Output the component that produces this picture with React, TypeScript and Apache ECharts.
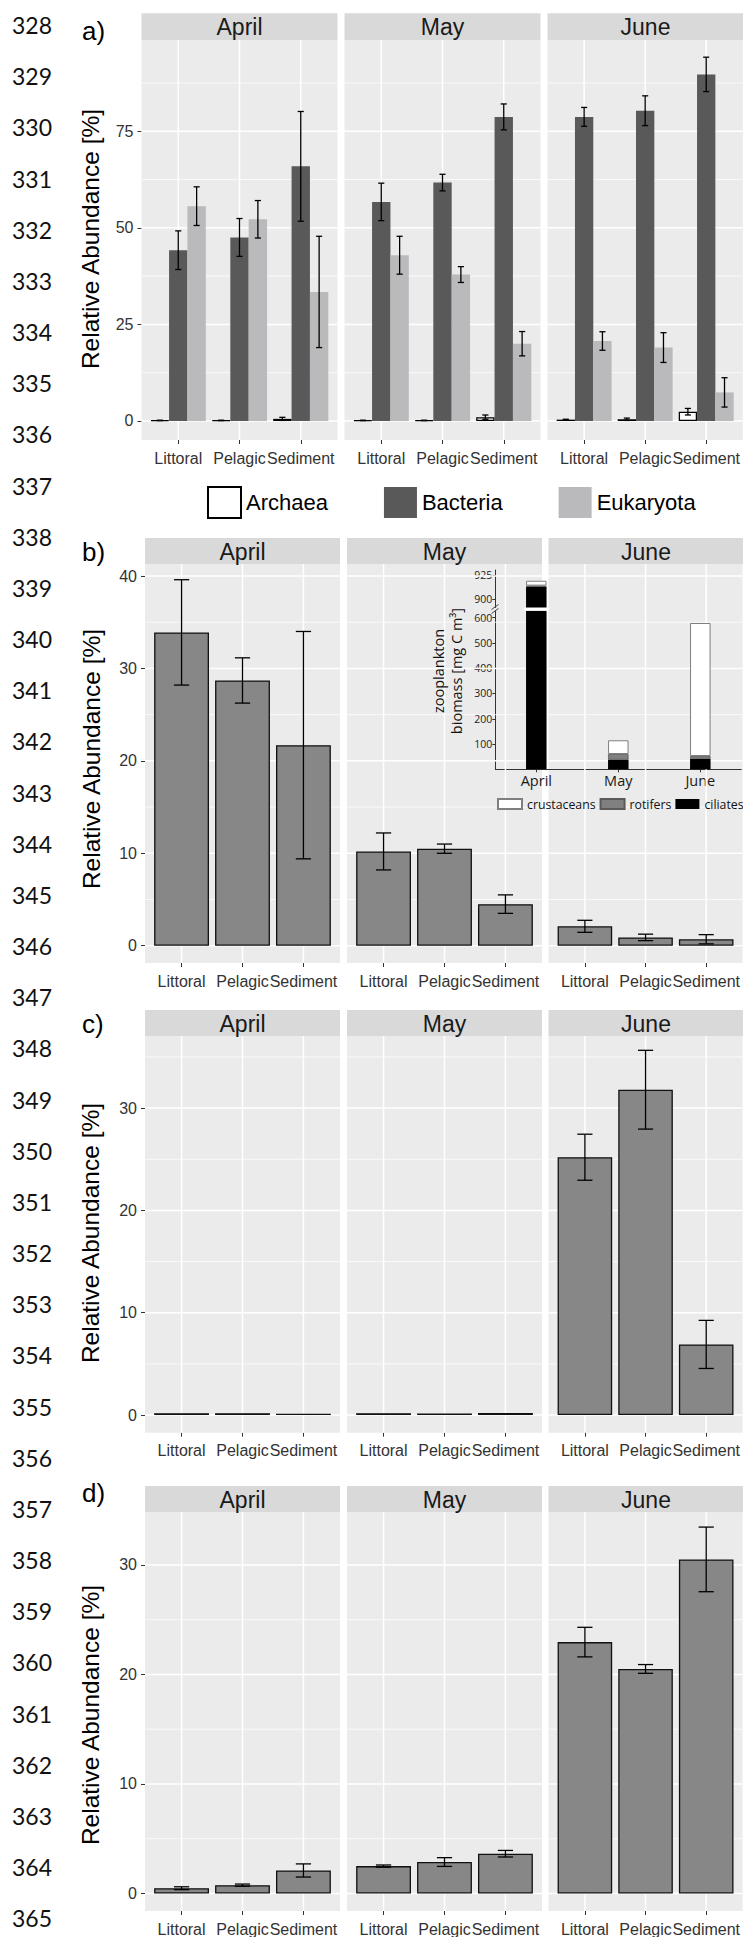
import React, { useEffect, useRef } from "react";
import * as echarts from "echarts";

const months = ["April", "May", "June"];
const sites = ["Littoral", "Pelagic", "Sediment"];
const lineNumbers = [
  328, 329, 330, 331, 332, 333, 334, 335, 336, 337, 338, 339, 340, 341, 342, 343, 344, 345, 346,
  347, 348, 349, 350, 351, 352, 353, 354, 355, 356, 357, 358, 359, 360, 361, 362, 363, 364, 365,
];
const yTitle = "Relative Abundance [%]";

// a) domains: mean and sd per month, order [Littoral, Pelagic, Sediment]
const archaeaMean = [[0.15, 0.15, 0.55], [0.15, 0.15, 1.0], [0.35, 0.45, 2.4]];
const archaeaSd = [[0.05, 0.05, 0.4], [0.05, 0.05, 0.55], [0.1, 0.3, 0.85]];
const bacteriaMean = [[44.2, 47.5, 65.9], [56.7, 61.7, 78.7], [78.7, 80.3, 89.7]];
const bacteriaSd = [[5.0, 4.9, 14.2], [4.85, 2.15, 3.35], [2.45, 3.85, 4.45]];
const eukaryotaMean = [[55.6, 52.2, 33.4], [42.9, 37.9, 20.0], [20.7, 19.0, 7.4]];
const eukaryotaSd = [[5.0, 4.85, 14.4], [4.9, 2.05, 3.15], [2.4, 3.85, 3.8]];

// b), c), d)
const bMean = [[33.9, 28.7, 21.7], [10.2, 10.5, 4.5], [2.1, 0.9, 0.7]];
const bSd = [[5.7, 2.45, 12.3], [2.0, 0.5, 1.0], [0.65, 0.35, 0.5]];
const cMean = [[0.18, 0.18, 0.13], [0.18, 0.15, 0.2], [25.2, 31.8, 6.9]];
const cSd = [[0, 0, 0], [0, 0, 0], [2.25, 3.85, 2.35]];
const dMean = [[0.48, 0.76, 2.1], [2.5, 2.87, 3.63], [22.95, 20.5, 30.5]];
const dSd = [[0.13, 0.1, 0.6], [0.1, 0.4, 0.3], [1.35, 0.4, 2.95]];

// inset: zooplankton biomass [mg C m-3]
const ciliates = [913, 38, 42];
const rotifers = [1, 22.5, 10.5];
const crustaceans = [5, 54.3, 526.4];

// tick labels
const ticksA = [0, 25, 50, 75];
const minorA = [12.5, 37.5, 62.5, 87.5];
const ticksB = [0, 10, 20, 30, 40];
const minorB = [5, 15, 25, 35];
const ticksC = [0, 10, 20, 30];
const minorC = [5, 15, 25, 35];
const ticksD = [0, 10, 20, 30];
const minorD = [5, 15, 25];
const insetLowTicks = [100, 200, 300, 400, 500, 600];
const insetHighTicks = [900, 925];

const FONT = "'Liberation Sans', Arial, Helvetica, sans-serif";
const IFONT = "'Open Sans', 'Noto Sans', sans-serif";

const panels = [
  { label: "a)", labelY: 31, stripTop: 13.3, top: 40, bottom: 440, ymin: -4.92, ymax: 98.6, lefts: [141.5, 344.5, 547.5], width: 196, major: ticksA, minor: minorA, titleX: 90, titleY: 239 },
  { label: "b)", labelY: 552, stripTop: 538, top: 564, bottom: 963, ymin: -1.87, ymax: 41.3, lefts: [145, 347, 548.5], width: 195, major: ticksB, minor: minorB, titleX: 91, titleY: 759 },
  { label: "c)", labelY: 1024, stripTop: 1010, top: 1036, bottom: 1432.7, ymin: -1.73, ymax: 37.05, lefts: [145, 347, 548.5], width: 195, major: ticksC, minor: minorC, titleX: 90.5, titleY: 1233 },
  { label: "d)", labelY: 1493, stripTop: 1486, top: 1512.3, bottom: 1913.3, ymin: -1.6, ymax: 34.8, lefts: [145, 347, 548.5], width: 195, major: ticksD, minor: minorD, titleX: 90.8, titleY: 1715 },
];

function gridSeries(g: number, major: number[], minor: number[]) {
  const data: number[][] = [];
  major.forEach((v) => data.push([0, v, 0]));
  minor.forEach((v) => data.push([0, v, 1]));
  [0, 1, 2].forEach((v) => data.push([v, 0, 2]));
  return {
    type: "custom",
    xAxisIndex: g,
    yAxisIndex: g,
    z: 1,
    silent: true,
    data,
    encode: { x: 0, y: 1 },
    renderItem: (params: any, api: any) => {
      const cs = params.coordSys;
      const kind = api.value(2);
      if (kind === 2) {
        const x = api.coord([api.value(0), 0])[0];
        return { type: "line", shape: { x1: x, y1: cs.y, x2: x, y2: cs.y + cs.height }, style: { stroke: "#FFFFFF", lineWidth: 1.5 } };
      }
      const y = api.coord([0, api.value(1)])[1];
      return { type: "line", shape: { x1: cs.x, y1: y, x2: cs.x + cs.width, y2: y }, style: { stroke: "#FFFFFF", lineWidth: kind === 0 ? 1.5 : 0.75 } };
    },
  };
}

function errorSeries(g: number, mean: number[], sd: number[], offset: number, cap: number) {
  const data: number[][] = [];
  mean.forEach((v, i) => {
    if (sd[i] > 0) data.push([i, v - sd[i], v + sd[i]]);
  });
  return {
    type: "custom",
    xAxisIndex: g,
    yAxisIndex: g,
    z: 4,
    silent: true,
    data,
    encode: { x: 0, y: [1, 2] },
    renderItem: (params: any, api: any) => {
      const x = api.value(0) + offset;
      const top = api.coord([x, api.value(2)]);
      const bot = api.coord([x, api.value(1)]);
      const half = api.size([cap, 0])[0] / 2;
      const st = { stroke: "#000000", lineWidth: 1.3 };
      return {
        type: "group",
        children: [
          { type: "line", shape: { x1: top[0], y1: top[1], x2: bot[0], y2: bot[1] }, style: st },
          { type: "line", shape: { x1: top[0] - half, y1: top[1], x2: top[0] + half, y2: top[1] }, style: st },
          { type: "line", shape: { x1: bot[0] - half, y1: bot[1], x2: bot[0] + half, y2: bot[1] }, style: st },
        ],
      };
    },
  };
}

function buildOption() {
  const grid: any[] = [];
  const xAxis: any[] = [];
  const yAxis: any[] = [];
  const series: any[] = [];
  const graphic: any[] = [];

  lineNumbers.forEach((n, i) => {
    graphic.push({
      type: "text",
      x: 12,
      y: 25 + i * 51.17,
      style: { text: String(n), fontSize: 23, fontFamily: "Lato, 'Open Sans', sans-serif", fill: "#111111", align: "left", verticalAlign: "middle" },
    });
  });

  panels.forEach((p, pi) => {
    graphic.push({
      type: "text",
      x: 82,
      y: p.labelY,
      style: { text: p.label, fontSize: 26, fontFamily: FONT, fill: "#000000", align: "left", verticalAlign: "middle" },
    });
    graphic.push({
      type: "text",
      x: p.titleX,
      y: p.titleY,
      rotation: Math.PI / 2,
      style: { text: yTitle, fontSize: 24.5, fontFamily: FONT, fill: "#000000", align: "center", verticalAlign: "middle" },
    });
    months.forEach((month, m) => {
      const g = pi * 3 + m;
      const left = p.lefts[m];
      graphic.push({
        type: "rect",
        shape: { x: left, y: p.stripTop, width: p.width, height: p.top - p.stripTop },
        style: { fill: "#D9D9D9" },
      });
      graphic.push({
        type: "text",
        x: left + p.width / 2,
        y: (p.stripTop + p.top) / 2 + 0.5,
        style: { text: month, fontSize: 23, fontFamily: FONT, fill: "#1A1A1A", align: "center", verticalAlign: "middle" },
      });
      grid.push({
        left,
        top: p.top,
        width: p.width,
        height: p.bottom - p.top,
        show: true,
        backgroundColor: "#EBEBEB",
        borderWidth: 0,
      });
      xAxis.push({
        type: "value",
        gridIndex: g,
        min: -0.6,
        max: 2.6,
        axisLine: { show: false, onZero: false },
        axisTick: { show: true, customValues: [0, 1, 2], length: 4, lineStyle: { color: "#333333", width: 1 } },
        axisLabel: {
          show: true,
          customValues: [0, 1, 2],
          formatter: (v: number) => sites[Math.round(v)] || "",
          margin: 10,
          fontSize: 16,
          color: "#333333",
          fontFamily: FONT,
        },
        splitLine: { show: false },
      });
      const first = m === 0;
      yAxis.push({
        type: "value",
        gridIndex: g,
        min: p.ymin,
        max: p.ymax,
        axisLine: { show: false, onZero: false },
        axisTick: { show: first, customValues: p.major, length: 4, lineStyle: { color: "#333333", width: 1 } },
        axisLabel: { show: first, customValues: p.major, margin: 8, fontSize: 16, color: "#333333", fontFamily: FONT },
        splitLine: { show: false },
      });
      series.push(gridSeries(g, p.major, p.minor));

      if (pi === 0) {
        const groups = [
          { name: "Archaea", mean: archaeaMean, sd: archaeaSd, style: { color: "#FFFFFF", borderColor: "#000000", borderWidth: 1.3 }, off: -0.3 },
          { name: "Bacteria", mean: bacteriaMean, sd: bacteriaSd, style: { color: "#595959" }, off: 0 },
          { name: "Eukaryota", mean: eukaryotaMean, sd: eukaryotaSd, style: { color: "#BAB9BC" }, off: 0.3 },
        ];
        groups.forEach((gr) => {
          series.push({
            type: "bar",
            name: gr.name,
            xAxisIndex: g,
            yAxisIndex: g,
            z: 2,
            barWidth: "30%",
            barGap: "0%",
            itemStyle: gr.style,
            data: gr.mean[m].map((v, i) => [i, v]),
          });
        });
        groups.forEach((gr) => {
          series.push(errorSeries(g, gr.mean[m], gr.sd[m], gr.off, 0.1));
        });
      } else {
        const mean = [bMean, cMean, dMean][pi - 1][m];
        const sd = [bSd, cSd, dSd][pi - 1][m];
        series.push({
          type: "bar",
          name: "value",
          xAxisIndex: g,
          yAxisIndex: g,
          z: 2,
          barWidth: "90%",
          itemStyle: { color: "#878787", borderColor: "#111111", borderWidth: 1.3 },
          data: mean.map((v, i) => [i, v]),
        });
        series.push(errorSeries(g, mean, sd, 0, 0.25));
      }
    });
  });

  // inset (broken y axis: lower and upper grids)
  const gLow = 12;
  const gHigh = 13;
  grid.push({ left: 495.3, top: 610.7, width: 246, height: 158.6, show: false });
  grid.push({ left: 495.3, top: 570, width: 246, height: 37.7, show: false });
  xAxis.push({
    type: "category",
    gridIndex: gLow,
    data: months,
    axisLine: { show: true, lineStyle: { color: "#333333", width: 1 } },
    axisTick: { show: true, alignWithLabel: true, length: 3, lineStyle: { color: "#333333" } },
    axisLabel: { fontSize: 14.5, margin: 4, color: "#1A1A1A", fontFamily: IFONT },
    splitLine: { show: false },
  });
  xAxis.push({ type: "category", gridIndex: gHigh, data: months, show: false });
  yAxis.push({
    type: "value",
    gridIndex: gLow,
    min: 0,
    max: 627.6,
    axisLine: { show: true, onZero: false, lineStyle: { color: "#333333", width: 1 } },
    axisTick: { show: true, customValues: insetLowTicks, length: 3, lineStyle: { color: "#333333" } },
    axisLabel: { customValues: insetLowTicks, fontSize: 10.5, margin: 3, color: "#222222", fontFamily: IFONT },
    splitLine: { show: false },
  });
  yAxis.push({
    type: "value",
    gridIndex: gHigh,
    min: 891.4,
    max: 930,
    axisLine: { show: true, onZero: false, lineStyle: { color: "#333333", width: 1 } },
    axisTick: { show: true, customValues: insetHighTicks, length: 3, lineStyle: { color: "#333333" } },
    axisLabel: { customValues: insetHighTicks, fontSize: 10.5, margin: 3, color: "#222222", fontFamily: IFONT },
    splitLine: { show: false },
  });
  const insetGroups = [
    { name: "ciliates", data: ciliates, style: { color: "#000000" } },
    { name: "rotifers", data: rotifers, style: { color: "#808080", borderColor: "#5A5A5A", borderWidth: 0.8 } },
    { name: "crustaceans", data: crustaceans, style: { color: "#FFFFFF", borderColor: "#7F7F7F", borderWidth: 1 } },
  ];
  [gLow, gHigh].forEach((g) => {
    insetGroups.forEach((ig) => {
      series.push({
        type: "bar",
        name: ig.name,
        xAxisIndex: g,
        yAxisIndex: g,
        stack: "zoo" + g,
        z: 6,
        barWidth: "25%",
        itemStyle: ig.style,
        data: ig.data,
      });
    });
  });

  // inset decorations
  graphic.push({ type: "rect", shape: { x: 524, y: 607.7, width: 25, height: 3 }, style: { fill: "#FFFFFF" }, z: 10 });
  graphic.push({ type: "rect", shape: { x: 492, y: 607.9, width: 6, height: 2.6 }, style: { fill: "#EBEBEB" }, z: 10 });
  graphic.push({ type: "line", shape: { x1: 491.5, y1: 609.5, x2: 498.5, y2: 604.5 }, style: { stroke: "#333333", lineWidth: 0.9 }, z: 11 });
  graphic.push({ type: "line", shape: { x1: 491.5, y1: 613.5, x2: 498.5, y2: 608.5 }, style: { stroke: "#333333", lineWidth: 0.9 }, z: 11 });
  graphic.push({
    type: "text",
    x: 447.5,
    y: 671,
    rotation: Math.PI / 2,
    style: {
      text: "zooplankton\nbiomass [mg C m³]",
      fontSize: 14.5,
      lineHeight: 18.5,
      fontFamily: IFONT,
      fill: "#111111",
      align: "center",
      verticalAlign: "middle",
    },
    z: 10,
  });

  return {
    animation: false,
    backgroundColor: "#FFFFFF",
    grid,
    xAxis,
    yAxis,
    series,
    graphic: { elements: graphic },
    legend: [
      {
        data: ["Archaea", "Bacteria", "Eukaryota"],
        left: 202,
        top: 481,
        itemWidth: 33,
        itemHeight: 31,
        itemGap: 56,
        icon: "rect",
        selectedMode: false,
        textStyle: { fontSize: 22, fontFamily: FONT, color: "#000000" },
      },
      {
        data: ["crustaceans", "rotifers", "ciliates"],
        left: 492,
        top: 793,
        width: 251,
        itemWidth: 24,
        itemHeight: 10,
        itemGap: 4,
        icon: "rect",
        selectedMode: false,
        textStyle: { fontSize: 12.3, fontFamily: IFONT, color: "#111111" },
      },
    ],
  };
}

export default function App() {
  const ref = useRef<HTMLDivElement>(null);
  useEffect(() => {
    document.body.style.margin = "0";
    if (!ref.current) return;
    const chart = echarts.init(ref.current, null, { renderer: "svg" });
    chart.setOption(buildOption() as any);
    return () => chart.dispose();
  }, []);
  return <div ref={ref} style={{ width: 743, height: 1937 }} />;
}
